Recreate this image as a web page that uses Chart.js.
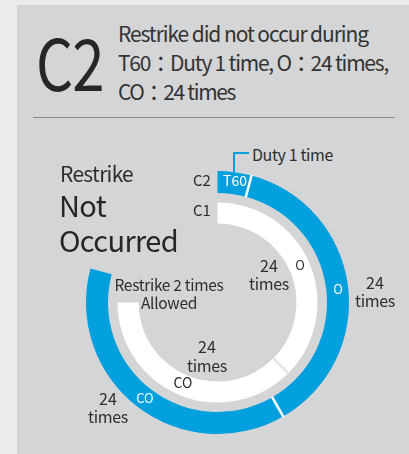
<!DOCTYPE html>
<html>
<head>
<meta charset="utf-8">
<script src="https://cdn.jsdelivr.net/npm/chart.js@4.4.1/dist/chart.umd.min.js"></script>
<style>
  html, body { margin: 0; padding: 0; }
  body {
    width: 409px; height: 454px; overflow: hidden; position: relative;
    background: #ebebea;
    font-family: "Noto Sans CJK KR", "Noto Sans", sans-serif;
    color: #2e2e2e;
  }
  .card { position: absolute; left: 17px; top: 5px; width: 392px; height: 449px; background: #d4d5d7; }
  .rule { position: absolute; left: 33px; top: 117px; width: 362px; height: 1px; background: #8c8c8c; }
  .lbl { position: absolute; white-space: nowrap; line-height: normal; transform-origin: 0 0; }
  .lead { position: absolute; background: #009fdd; }
  #ring { position: absolute; left: 86px; top: 171px; }
</style>
</head>
<body>
<div class="card"></div>
<div class="rule"></div>
<div class="lead" style="left:233px;top:152px;width:1.5px;height:20px;"></div>
<div class="lead" style="left:233px;top:152px;width:16px;height:1.5px;"></div>
<canvas id="ring" width="263" height="263"></canvas>
<div id="labels"></div>

<script>
// ---- data (arc spans in degrees) ----
const c2Segments = ['T60', 'O', 'CO'];
const c2Degrees = [15, 135, 135];
const c2Counts = [1, 24, 24];

const c1Segments = ['O', 'CO'];
const c1Degrees = [135, 135];
const c1Counts = [24, 24];

const BLUE = '#009fdd';

// thin radial lines between neighbouring segments of a ring
const separators = {
  id: 'separators',
  afterDatasetsDraw(chart) {
    const ctx = chart.ctx;
    chart.data.datasets.forEach((ds, i) => {
      if (!ds.sepColor) return;
      const arcs = chart.getDatasetMeta(i).data;
      for (let j = 0; j < ds.segCount - 1; j++) {
        const p = arcs[j].getProps(['x', 'y', 'endAngle', 'innerRadius', 'outerRadius'], true);
        const c = Math.cos(p.endAngle), s = Math.sin(p.endAngle);
        ctx.save();
        ctx.strokeStyle = ds.sepColor;
        ctx.lineWidth = 2.5;
        ctx.beginPath();
        ctx.moveTo(p.x + c * (p.innerRadius - 0.5), p.y + s * (p.innerRadius - 0.5));
        ctx.lineTo(p.x + c * (p.outerRadius + 0.5), p.y + s * (p.outerRadius + 0.5));
        ctx.stroke();
        ctx.restore();
      }
    });
  }
};

const sum = a => a.reduce((t, v) => t + v, 0);

new Chart(document.getElementById('ring'), {
  type: 'doughnut',
  data: {
    labels: ['a', 'b', 'c', 'd'],
    datasets: [
      {
        label: 'C2',
        data: [...c2Degrees, 360 - sum(c2Degrees)],
        backgroundColor: [BLUE, BLUE, BLUE, 'rgba(0,0,0,0)'],
        borderWidth: 0,
        weight: 22,
        sepColor: '#ffffff',
        segCount: c2Degrees.length
      },
      {
        label: 'gap',
        data: [360],
        backgroundColor: ['rgba(0,0,0,0)'],
        borderWidth: 0,
        weight: 9.5
      },
      {
        label: 'C1',
        data: [...c1Degrees, 360 - sum(c1Degrees)],
        backgroundColor: ['#ffffff', '#ffffff', 'rgba(0,0,0,0)'],
        borderWidth: 0,
        weight: 21,
        sepColor: '#e6e6e6',
        segCount: c1Degrees.length
      }
    ]
  },
  options: {
    responsive: false,
    animation: false,
    events: [],
    cutout: 79,
    layout: { padding: 0 },
    plugins: { legend: { display: false }, tooltip: { enabled: false } }
  },
  plugins: [separators]
});

// ---- text, placed by baseline; fit = wanted width (0 = natural) ----
const times = n => n === 1 ? 'Duty 1 time' : String(n);
const labels = [
  // text, x, baseline, size, colour, align, fit
  ['C2', 36, 91, 71, '#262626', 'left', -1],
  ['Restrike did not occur during', 118, 42, 21, '#333', 'left', 250],
  [`${c2Segments[0]}：Duty ${c2Counts[0]} time, ${c1Segments[0]}：${c2Counts[1]} times,`, 118, 71, 21, '#333', 'left', 270],
  [`${c2Segments[2]}：${c2Counts[2]} times`, 118, 100, 21, '#333', 'left', 117],
  ['Restrike', 60, 182, 21, '#2e2e2e', 'left', 73],
  ['Not', 59, 217, 29, '#262626', 'left', 47],
  ['Occurred', 59, 252, 29, '#262626', 'left', 119],
  ['C2', 193, 186, 15, '#2e2e2e', 'left', 0],
  ['C1', 193, 216, 15, '#2e2e2e', 'left', 0],
  [c2Segments[0], 223, 186, 14, '#fff', 'left', 0],
  [times(c2Counts[0]), 252, 161, 16, '#2e2e2e', 'left', 81],
  [String(c1Counts[0]), 269, 272, 16, '#2e2e2e', 'center', 0],
  ['times', 269, 290, 16, '#2e2e2e', 'center', 40],
  [c1Segments[0], 300, 270, 13, '#2e2e2e', 'center', 0],
  [c2Segments[1], 338, 294, 13, '#fff', 'center', 0],
  [String(c2Counts[1]), 375, 289, 16, '#2e2e2e', 'center', 0],
  ['times', 375, 307, 16, '#2e2e2e', 'center', 40],
  ['Restrike 2 times', 169, 291, 15.5, '#2e2e2e', 'center', 109],
  ['Allowed', 169, 309, 15.5, '#2e2e2e', 'center', 56],
  [String(c1Counts[1]), 207, 353, 16, '#2e2e2e', 'center', 0],
  ['times', 207, 372, 16, '#2e2e2e', 'center', 40],
  [c1Segments[1], 183, 388, 14, '#2e2e2e', 'center', 0],
  [c2Segments[2], 145, 403, 13, '#fff', 'center', 0],
  [String(c2Counts[2]), 108, 405, 16, '#2e2e2e', 'center', 0],
  ['times', 108, 423, 16, '#2e2e2e', 'center', 40]
];

const host = document.getElementById('labels');
labels.forEach(([text, x, base, size, color, align, fit]) => {
  const d = document.createElement('div');
  d.className = 'lbl';
  d.style.fontSize = size + 'px';
  d.style.color = color;
  d.textContent = text;
  const mark = document.createElement('span');
  mark.style.cssText = 'display:inline-block;width:0;height:0;';
  d.appendChild(mark);
  host.appendChild(d);
  let w = d.getBoundingClientRect().width;
  if (fit > 0) {
    const ls = (fit - w) / text.length;
    d.style.letterSpacing = ls + 'px';
    w = fit;
  }
  if (fit < 0) {
    // the big "C2" is set narrow in the original
    d.style.transform = 'scaleX(0.82)';
    d.style.letterSpacing = '-1px';
  }
  d.style.left = (align === 'center' ? x - w / 2 : x) + 'px';
  d.style.top = (base - mark.offsetTop) + 'px';
});
</script>
</body>
</html>
